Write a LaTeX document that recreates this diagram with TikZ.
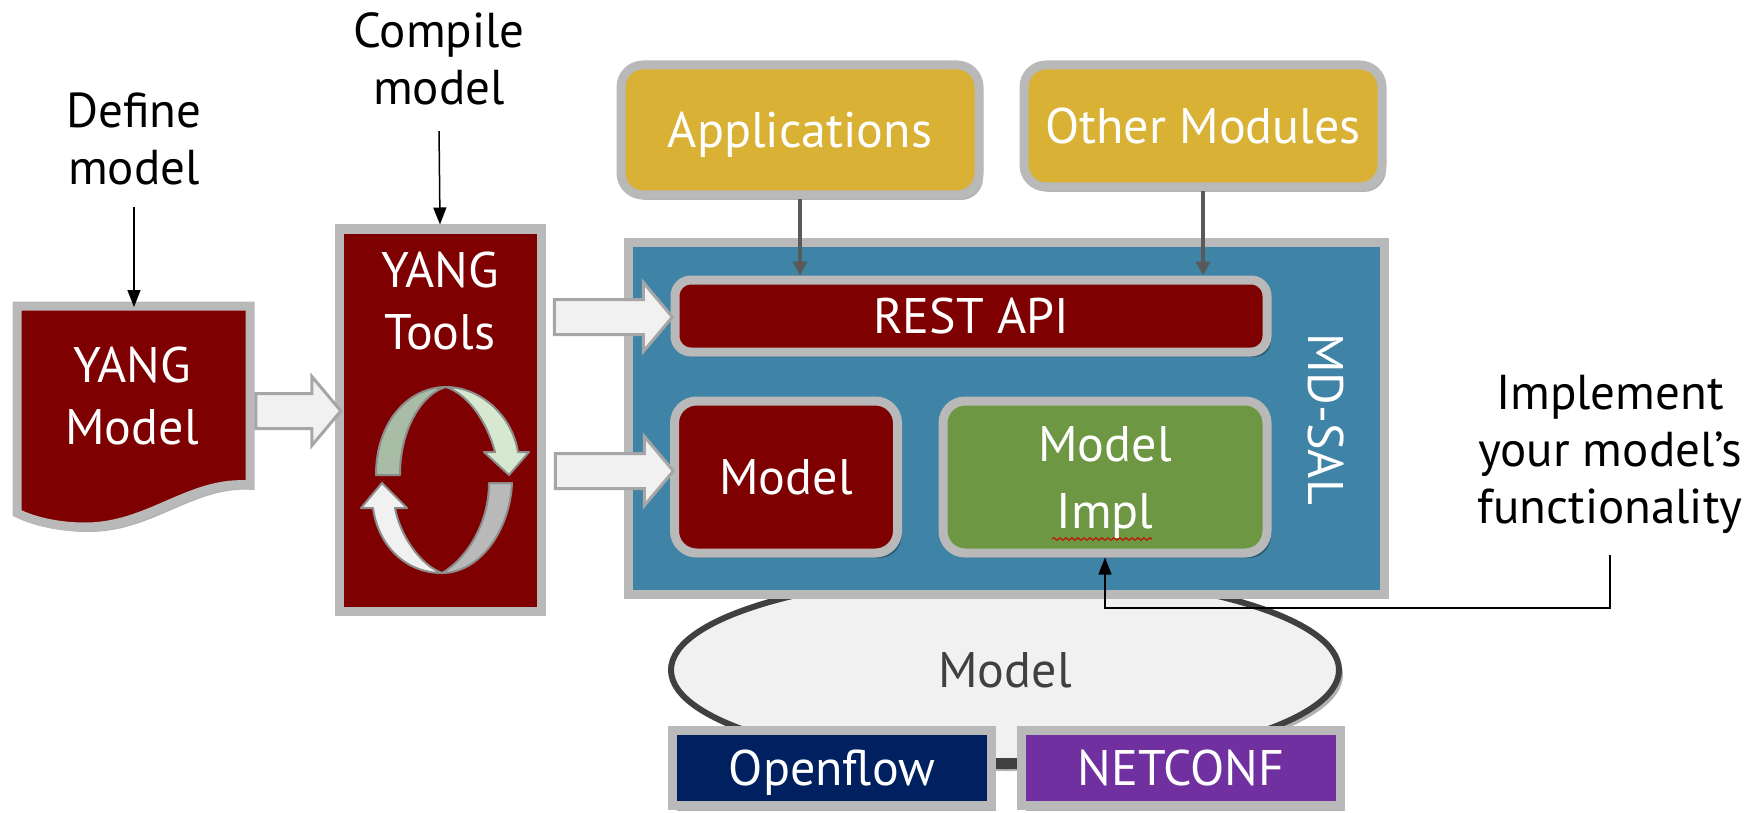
\documentclass[tikz,border=0pt]{standalone}
\usepackage{fontspec}
\setmainfont{PT Sans}
\usepackage{xcolor}
\usepackage{tikz}
\usetikzlibrary{arrows.meta}
\usetikzlibrary{shapes.geometric}
\usetikzlibrary{shapes.arrows}
\usetikzlibrary{shadows}
\usetikzlibrary{decorations.pathmorphing}
\definecolor{dred}{HTML}{7F0000}
\definecolor{edgegray}{HTML}{B9B9B9}
\definecolor{salblue}{HTML}{3F84A6}
\definecolor{appgold}{HTML}{D8B135}
\definecolor{implgreen}{HTML}{6E9743}
\definecolor{ofblue}{HTML}{002060}
\definecolor{ncpurple}{HTML}{7030A0}
\definecolor{lightfill}{HTML}{F1F1F1}
\definecolor{textgray}{HTML}{404040}
\definecolor{sage}{HTML}{A9BCA5}
\definecolor{palegreen}{HTML}{D6E8D0}
\newcommand\bigtext{\fontsize{50}{62}\selectfont}
\newcommand\captext{\fontsize{49}{57}\selectfont}
\tikzstyle{softshadow}=[drop shadow={shadow xshift=4pt,shadow yshift=-5pt,opacity=.3,fill=black}]
\tikzstyle{box}=[draw=edgegray,line width=9pt,softshadow,text=white,font=\bigtext,align=center,inner sep=0pt,text depth=0pt]
\tikzstyle{rbox}=[box,rounded corners=22pt]
\tikzstyle{caption}=[font=\captext,align=center,text=black,inner sep=0pt,outer sep=22pt]
\tikzstyle{thinarrow}=[line width=1.5pt,-{Triangle[length=17pt,width=13pt]}]
\tikzstyle{apiarrow}=[line width=4pt,draw=black!65,-{Triangle[length=14pt,width=14pt]}]
\tikzstyle{flowarrow}=[single arrow,draw=black!35,fill=lightfill,line width=3pt,single arrow head extend=17pt,single arrow tip angle=100,inner sep=16pt]
\tikzstyle{cyc}=[draw=black!45,line width=2pt,line join=round]
\begin{document}
\begin{tikzpicture}[x=1pt,y=-1pt]
	\useasboundingbox (0,0) rectangle (1753,813);
	\node[ellipse,draw=textgray,fill=lightfill,line width=6pt,minimum width=668pt,minimum height=192pt,softshadow,font=\bigtext,text=textgray] (wire) at (1005,670) {Model};
	\node[box,fill=salblue,minimum width=756pt,minimum height=352pt] (sal) at (1006,418) {};
	\node[rbox,fill=appgold,minimum width=358pt,minimum height=130pt] (apps) at (800,130) {Applications};
	\node[rbox,fill=appgold,minimum width=358pt,minimum height=122pt] (others) at (1203,126) {Other Modules};
	\node[rbox,rounded corners=16pt,fill=dred,minimum width=592pt,minimum height=72pt] (rest) at (971,316) {REST API};
	\node[rbox,fill=dred,minimum width=223pt,minimum height=152pt] (model) at (786,477) {Model};
	\node[rbox,fill=implgreen,minimum width=324pt,minimum height=152pt,font=\fontsize{50}{67}\selectfont] (impl) at (1105,477) {Model\\Impl};
	\draw[red!80!black,line width=1pt,decorate,decoration={snake,amplitude=1.3pt,segment length=6pt}] (1052,539) -- (1152,539);
	\node[font=\fontsize{50}{50}\selectfont,text=white,rotate=-90,inner sep=0pt] (mdsal) at (1326,419) {MD-SAL};
	\node[box,fill=ofblue,minimum width=319pt,minimum height=75pt] (openflow) at (832,768) {Openflow};
	\node[box,fill=ncpurple,minimum width=319pt,minimum height=75pt] (netconf) at (1181,768) {NETCONF};
	\draw[line width=8pt,textgray] ([yshift=6pt]openflow.east) -- ([yshift=6pt]netconf.west);
	\draw[apiarrow] (apps.south) -- (apps.south |- rest.north);
	\draw[apiarrow] (others.south) -- (others.south |- rest.north);
	\draw[draw=edgegray,line width=9pt,fill=dred,softshadow] (17,306) -- (250,306) -- (250,485) .. controls (190,480) and (150,527) .. (85,527) .. controls (60,527) and (35,522) .. (17,513) -- cycle;
	\node[caption,font=\bigtext,text=white] (yang) at (132,396) {YANG\\Model};
	\node[box,fill=dred,minimum width=202pt,minimum height=382pt] (tools) at (440,420) {};
	\node[caption,font=\bigtext,text=white] (toolstext) at (440,301) {YANG\\Tools};
	\draw[cyc,fill=sage] (376,475) .. controls (376,420) and (410,387) .. (446,387) .. controls (425,392) and (400,425) .. (400,475) -- cycle;
	\draw[cyc,fill=palegreen] (446,387) .. controls (480,387) and (512,415) .. (518,452) -- (529,452) -- (509,475) -- (484,452) -- (495,452) .. controls (488,425) and (470,395) .. (446,387) -- cycle;
	\draw[cyc,fill=edgegray] (489,483) -- (512,483) .. controls (510,530) and (480,573) .. (442,573) .. controls (465,560) and (489,525) .. (489,483) -- cycle;
	\draw[cyc,fill=lightfill] (382,483) -- (407,508) -- (395,508) .. controls (400,535) and (420,565) .. (442,573) .. controls (405,573) and (378,545) .. (373,508) -- (361,508) -- cycle;
	\node[flowarrow,minimum height=85pt] (flowa) at (291,411) {};
	\node[flowarrow,minimum height=118pt] (flowb) at (606,317) {};
	\node[flowarrow,minimum height=118pt] (flowc) at (607,471) {};
	\node[caption] (define) at (134,139) {Define\\model};
	\node[caption] (compile) at (439,59) {Compile\\model};
	\node[caption] (implement) at (1610,454) {Implement\\your model’s\\functionality};
	\coordinate (yangtop) at (134,307);
	\coordinate (bend) at (1105,608);
	\draw[thinarrow] (define.south) -- (yangtop);
	\draw[thinarrow,shorten <=4pt] (compile.south) -- (tools.north);
	\draw[thinarrow] (implement.south) |- (bend) -- (impl.south);
\end{tikzpicture}
\end{document}
